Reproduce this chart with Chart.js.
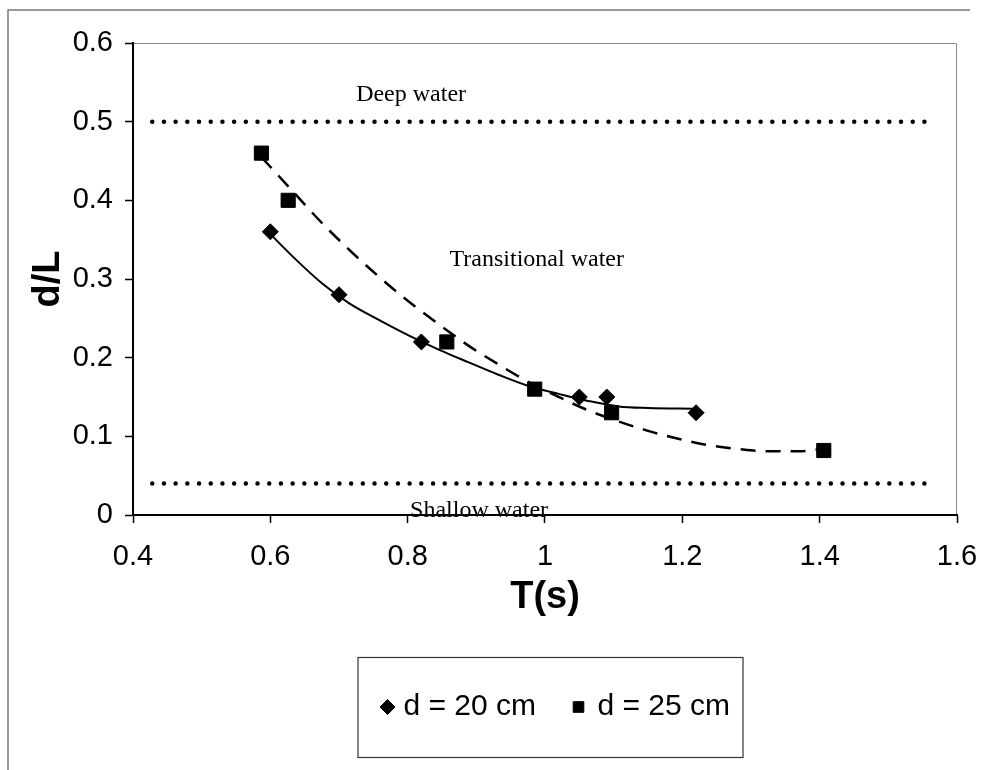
<!DOCTYPE html>
<html>
<head>
<meta charset="utf-8">
<script src="https://cdn.jsdelivr.net/npm/chart.js@4.4.0/dist/chart.umd.min.js"></script>
<style>
  html, body { margin: 0; padding: 0; background: #fff; }
  #wrap { width: 999px; height: 770px; position: relative; }
</style>
</head>
<body>
<div id="wrap"><canvas id="waveChart"></canvas></div>
<script>
// measured points, d = 20 cm
const periods20 = [0.6, 0.7, 0.82, 1.05, 1.09, 1.22];
const ratio20 = [0.36, 0.28, 0.22, 0.15, 0.15, 0.13];

// measured points, d = 25 cm
const periods25 = [0.587, 0.626, 0.857, 0.985, 1.097, 1.406];
const ratio25 = [0.46, 0.40, 0.22, 0.16, 0.13, 0.082];

// fitted curve through the 20 cm points (solid)
const fit20T = [0.6, 0.638, 0.676, 0.715, 0.758, 0.802, 0.846, 0.889, 0.933, 0.976, 1.02, 1.063, 1.107, 1.15, 1.219];
const fit20Y = [0.357, 0.324, 0.294, 0.269, 0.248, 0.228, 0.21, 0.194, 0.178, 0.164, 0.154, 0.145, 0.138, 0.136, 0.135];

// fitted curve through the 25 cm points (dashed)
const fit25T = [0.587, 0.628, 0.671, 0.715, 0.758, 0.802, 0.846, 0.889, 0.933, 0.976, 1.02, 1.063, 1.107, 1.15, 1.194, 1.237, 1.281, 1.325, 1.368, 1.406];
const fit25Y = [0.455, 0.416, 0.375, 0.337, 0.303, 0.271, 0.242, 0.215, 0.191, 0.169, 0.15, 0.133, 0.119, 0.107, 0.097, 0.089, 0.084, 0.081, 0.081, 0.084];

// water depth limits
const deepLimit = 0.5;
const shallowLimit = 0.04;
const limitSpan = [0.428, 1.568];

const xTicks = [0.4, 0.6, 0.8, 1, 1.2, 1.4, 1.6];
const yTicks = [0, 0.1, 0.2, 0.3, 0.4, 0.5, 0.6];

const seriesNames = ['d = 20 cm', 'd = 25 cm'];

const toPoints = (xs, ys) => xs.map((x, i) => ({ x: x, y: ys[i] }));

// region labels, in data units
const regionLabels = [
  { text: 'Deep water', x: 0.805, y: 0.534 },
  { text: 'Transitional water', x: 0.988, y: 0.324 },
  { text: 'Shallow water', x: 0.904, y: 0.006 }
];

const framePlugin = {
  id: 'frame',
  beforeDraw(chart) {
    const ctx = chart.ctx;
    ctx.save();
    ctx.fillStyle = '#fff';
    ctx.fillRect(0, 0, chart.width, chart.height);
    ctx.strokeStyle = '#777';
    ctx.lineWidth = 1.5;
    ctx.beginPath();
    ctx.moveTo(8, chart.height);
    ctx.lineTo(8, 10);
    ctx.lineTo(970, 10);
    ctx.stroke();
    // plot area top / right border
    const a = chart.chartArea;
    ctx.strokeStyle = '#888';
    ctx.lineWidth = 1;
    ctx.beginPath();
    ctx.moveTo(a.left, a.top + 0.5);
    ctx.lineTo(a.right - 0.5, a.top + 0.5);
    ctx.lineTo(a.right - 0.5, a.bottom);
    ctx.stroke();
    ctx.restore();
  },
  afterDatasetsDraw(chart) {
    const ctx = chart.ctx;
    const xs = chart.scales.x, ys = chart.scales.y;
    ctx.save();
    ctx.fillStyle = '#000';
    ctx.font = '24px "Liberation Serif", "Times New Roman", serif';
    ctx.textAlign = 'center';
    ctx.textBaseline = 'middle';
    regionLabels.forEach(l => {
      ctx.fillText(l.text, xs.getPixelForValue(l.x), ys.getPixelForValue(l.y));
    });

    // legend box
    const a = chart.chartArea;
    const cx = (a.left + a.right) / 2 + 5;
    const bw = 385, bh = 100, by = 657;
    const bx = cx - bw / 2;
    ctx.strokeStyle = '#333';
    ctx.lineWidth = 1.2;
    ctx.strokeRect(bx + 0.5, by + 0.5, bw, bh);
    ctx.font = '30px "Liberation Sans", Arial, sans-serif';
    ctx.textAlign = 'left';
    ctx.textBaseline = 'middle';
    const rowY = by + bh / 2;
    const items = [
      { ds: chart.data.datasets[0], mx: bx + 30, tx: bx + 46 },
      { ds: chart.data.datasets[1], mx: bx + 221, tx: bx + 240 }
    ];
    items.forEach(it => {
      ctx.fillStyle = '#000';
      ctx.strokeStyle = '#000';
      ctx.lineWidth = 1;
      Chart.helpers.drawPoint(ctx, {
        pointStyle: it.ds.pointStyle,
        radius: 7.5,
        rotation: 0,
        borderWidth: 1
      }, it.mx, rowY);
      ctx.fillText(it.ds.label, it.tx, rowY);
    });
    ctx.restore();
  }
};

const dotted = {
  borderColor: '#000',
  borderWidth: 4.5,
  borderDash: [0, 11.7],
  borderCapStyle: 'round',
  showLine: true,
  pointRadius: 0,
  fill: false
};

const tickFont = { family: '"Liberation Sans", Arial, sans-serif', size: 29 };
const titleFont = { family: '"Liberation Sans", Arial, sans-serif', size: 38, weight: 'bold' };

new Chart(document.getElementById('waveChart'), {
  type: 'scatter',
  data: {
    datasets: [
      {
        label: seriesNames[0],
        data: toPoints(periods20, ratio20),
        pointStyle: 'rectRot',
        pointRadius: 8,
        backgroundColor: '#000',
        borderColor: '#000',
        borderWidth: 1
      },
      {
        label: seriesNames[1],
        data: toPoints(periods25, ratio25),
        pointStyle: 'rect',
        pointRadius: 10,
        backgroundColor: '#000',
        borderColor: '#000',
        borderWidth: 1
      },
      {
        label: 'fit20',
        data: toPoints(fit20T, fit20Y),
        showLine: true,
        pointRadius: 0,
        borderColor: '#000',
        borderWidth: 2,
        cubicInterpolationMode: 'monotone'
      },
      {
        label: 'fit25',
        data: toPoints(fit25T, fit25Y),
        showLine: true,
        pointRadius: 0,
        borderColor: '#000',
        borderWidth: 2.5,
        borderDash: [15, 10],
        cubicInterpolationMode: 'monotone'
      },
      Object.assign({ label: 'deep', data: limitSpan.map(x => ({ x: x, y: deepLimit })) }, dotted),
      Object.assign({ label: 'shallow', data: limitSpan.map(x => ({ x: x, y: shallowLimit })) }, dotted)
    ]
  },
  options: {
    responsive: true,
    maintainAspectRatio: false,
    animation: false,
    layout: { padding: { left: 10, top: 43, right: 42, bottom: 150 } },
    plugins: {
      legend: { display: false },
      tooltip: { enabled: false }
    },
    scales: {
      x: {
        type: 'linear',
        min: 0.4,
        max: 1.6,
        afterFit: s => { s.height = 105; },
        afterBuildTicks: s => { s.ticks = xTicks.map(v => ({ value: v })); },
        grid: { drawOnChartArea: false, drawTicks: true, tickLength: 8, tickColor: '#000', tickWidth: 1.5 },
        border: { display: true, color: '#000', width: 2 },
        ticks: {
          color: '#000',
          padding: 17,
          font: tickFont,
          callback: v => String(Math.round(v * 10) / 10)
        },
        title: {
          display: true,
          text: 'T(s)',
          color: '#000',
          padding: { top: 0, bottom: 0 },
          font: titleFont
        }
      },
      y: {
        type: 'linear',
        min: 0,
        max: 0.6,
        afterFit: s => { s.width = 123; },
        afterBuildTicks: s => { s.ticks = yTicks.map(v => ({ value: v })); },
        grid: { drawOnChartArea: false, drawTicks: true, tickLength: 8, tickColor: '#000', tickWidth: 1.5 },
        border: { display: true, color: '#000', width: 2 },
        ticks: {
          color: '#000',
          padding: 12,
          font: tickFont,
          callback: v => String(Math.round(v * 10) / 10)
        },
        title: {
          display: true,
          text: 'd/L',
          color: '#000',
          padding: { top: 16, bottom: 0 },
          font: titleFont
        }
      }
    }
  },
  plugins: [framePlugin]
});
</script>
</body>
</html>
